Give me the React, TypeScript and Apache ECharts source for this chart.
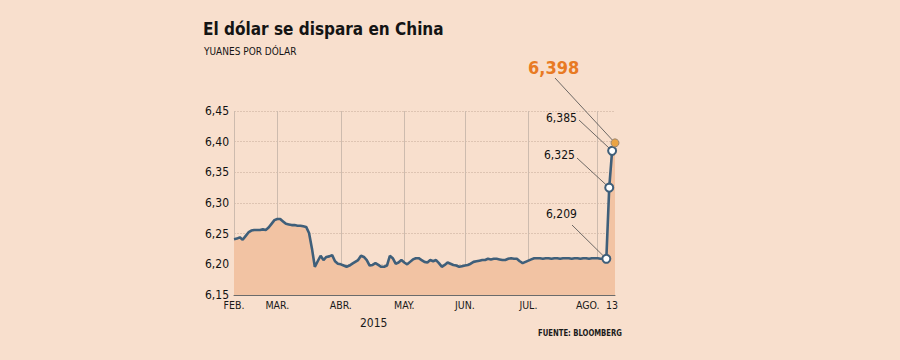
import React, { useEffect, useRef } from 'react';
import * as echarts from 'echarts';

const monthLabels = ['FEB.', 'MAR.', 'ABR.', 'MAY.', 'JUN.', 'JUL.', 'AGO.'];

const feb = [6.241, 6.242, 6.244, 6.240, 6.246, 6.252, 6.255, 6.256, 6.256, 6.256, 6.257, 6.256, 6.260, 6.266, 6.272];
const mar = [6.274, 6.274, 6.270, 6.266, 6.265, 6.264, 6.264, 6.263, 6.263, 6.262, 6.261, 6.251, 6.226, 6.196, 6.205, 6.214, 6.207, 6.212, 6.213, 6.215, 6.205, 6.201];
const abr = [6.200, 6.198, 6.196, 6.198, 6.201, 6.204, 6.207, 6.214, 6.212, 6.207, 6.198, 6.199, 6.202, 6.199, 6.196, 6.196, 6.198, 6.214, 6.210, 6.201, 6.203, 6.207];
const may = [6.203, 6.200, 6.204, 6.208, 6.210, 6.210, 6.207, 6.204, 6.203, 6.207, 6.205, 6.207, 6.202, 6.196, 6.199, 6.203, 6.201, 6.199, 6.198, 6.196, 6.197];
const jun = [6.198, 6.199, 6.201, 6.204, 6.205, 6.206, 6.207, 6.207, 6.209, 6.208, 6.209, 6.209, 6.208, 6.207, 6.207, 6.209, 6.210, 6.209, 6.209, 6.205, 6.202, 6.204];
const jul = [6.206, 6.208, 6.210, 6.210, 6.210, 6.209, 6.210, 6.210, 6.209, 6.210, 6.210, 6.209, 6.210, 6.210, 6.210, 6.209, 6.210, 6.210, 6.209, 6.210, 6.210, 6.209, 6.210, 6.210];
const ago = [6.210, 6.209, 6.209, 6.209, 6.325, 6.385, 6.398];

const lastDayLabel = '13';
const yTicks = { min: 6.15, max: 6.45, interval: 0.05 };

const annotatedValues = ['6,209', '6,325', '6,385', '6,398'];

const FONT = '"DejaVu Sans Condensed", "DejaVu Sans", "Liberation Sans", sans-serif';
const BG = '#F8DFCD';
const LINE = '#3F5F7A';
const FILL = '#F2C3A3';
const ORANGE = '#E87A23';

export default function App() {
  const ref = useRef<HTMLDivElement>(null);

  useEffect(() => {
    const chart = echarts.init(ref.current!, null, { renderer: 'svg' });
    const months = [feb, mar, abr, may, jun, jul, ago];
    const values: number[] = [];
    const categories: string[] = [];
    const monthStart: Record<number, string> = {};
    months.forEach((arr, m) => {
      monthStart[values.length] = monthLabels[m];
      arr.forEach((v, k) => {
        values.push(v);
        categories.push(monthLabels[m] + ' ' + (k + 1));
      });
    });
    const last = values.length - 1;
    const firstMarked = last - 3;
    const augStart = values.length - ago.length;

    const seriesData = values.map((v, i) =>
      i === last
        ? { value: v, symbol: 'circle', itemStyle: { color: '#EAA444', borderColor: '#9C8670', borderWidth: 1 } }
        : v
    );

    chart.setOption({
      animation: false,
      backgroundColor: BG,
      textStyle: { fontFamily: FONT },
      title: [
        {
          text: 'El dólar se dispara en China',
          left: 203,
          top: 20,
          padding: 0,
          textStyle: { fontSize: 17, fontWeight: 'bold', color: '#141414', fontFamily: FONT },
        },
        {
          text: 'YUANES POR DÓLAR',
          left: 204,
          top: 46,
          padding: 0,
          textStyle: { fontSize: 10, fontWeight: 'normal', color: '#141414', fontFamily: FONT },
        },
        {
          text: '2015',
          left: 360,
          top: 317,
          padding: 0,
          textStyle: { fontSize: 12, fontWeight: 'normal', color: '#1a1a1a', fontFamily: FONT },
        },
      ],
      grid: { left: 234, right: 285, top: 111, bottom: 65 },
      xAxis: {
        type: 'category',
        data: categories,
        boundaryGap: false,
        axisLine: { show: true, lineStyle: { color: '#6b6b6b', width: 1 } },
        axisTick: { show: false },
        axisLabel: {
          interval: (i: number) => monthStart[i] !== undefined || i === last,
          formatter: (_v: string, i: number) => {
            if (i === last) return '{d|' + lastDayLabel + '}';
            if (i === augStart) return '{ago|' + monthStart[i] + '}';
            return monthStart[i] ?? '';
          },
          color: '#1a1a1a',
          fontSize: 10.5,
          fontFamily: FONT,
          margin: 4,
          rich: {
            ago: { fontSize: 10.5, fontFamily: FONT, color: '#1a1a1a', padding: [0, 20, 0, 0] },
            d: { fontSize: 10.5, fontFamily: FONT, color: '#1a1a1a', padding: [0, 6, 0, 0] },
          },
        },
        splitLine: {
          show: true,
          interval: (i: number) => monthStart[i] !== undefined,
          lineStyle: { color: '#CDBBAE', width: 1 },
        },
      },
      yAxis: {
        type: 'value',
        min: yTicks.min,
        max: yTicks.max,
        interval: yTicks.interval,
        axisLine: { show: false },
        axisTick: { show: false },
        axisLabel: {
          formatter: (v: number) => v.toFixed(2).replace('.', ','),
          color: '#111',
          fontSize: 12,
          fontFamily: FONT,
          margin: 5,
        },
        splitLine: { show: true, lineStyle: { color: '#DEC4B2', width: 1, type: [2, 1] } },
      },
      series: [
        {
          type: 'line',
          data: seriesData,
          symbol: 'emptyCircle',
          showSymbol: true,
          showAllSymbol: true,
          symbolSize: (_v: number, p: any) => (p.dataIndex >= firstMarked ? 8 : 0),
          itemStyle: { color: LINE, borderColor: LINE, borderWidth: 1.5 },
          lineStyle: { color: LINE, width: 2.6 },
          areaStyle: { color: FILL, opacity: 1, origin: 'start' },
          z: 3,
        },
      ],
    });

    const specs = [
      { idx: firstMarked, text: annotatedValues[0], lx: 546, ly: 208, fx: 572, fy: 225, color: '#111', size: 12, weight: 'normal' },
      { idx: firstMarked + 1, text: annotatedValues[1], lx: 544, ly: 149, fx: 577, fy: 158, color: '#111', size: 12, weight: 'normal' },
      { idx: firstMarked + 2, text: annotatedValues[2], lx: 546, ly: 112, fx: 579, fy: 120, color: '#111', size: 12, weight: 'normal' },
      { idx: last, text: annotatedValues[3], lx: 528, ly: 58, fx: 555, fy: 78, color: ORANGE, size: 18, weight: 'bold' },
    ];
    const graphic: any[] = [];
    specs.forEach((s) => {
      const p = chart.convertToPixel({ gridIndex: 0 }, [s.idx, values[s.idx]]) as number[];
      graphic.push({
        type: 'line',
        z: 1,
        shape: { x1: s.fx, y1: s.fy, x2: p[0], y2: p[1] },
        style: { stroke: '#4a4a4a', lineWidth: 0.8 },
      });
      graphic.push({
        type: 'text',
        x: s.lx,
        y: s.ly,
        style: { text: s.text, fill: s.color, fontSize: s.size, fontWeight: s.weight, fontFamily: FONT },
      });
    });
    graphic.push({
      type: 'text',
      x: 622,
      y: 328,
      scaleX: 0.9,
      style: {
        text: 'FUENTE: BLOOMBERG',
        fill: '#1a1a1a',
        fontSize: 8.5,
        fontWeight: 'bold',
        fontFamily: FONT,
        align: 'right',
      },
    });
    chart.setOption({ graphic });

    return () => chart.dispose();
  }, []);

  return <div ref={ref} style={{ position: 'fixed', left: 0, top: 0, width: 900, height: 360 }} />;
}
